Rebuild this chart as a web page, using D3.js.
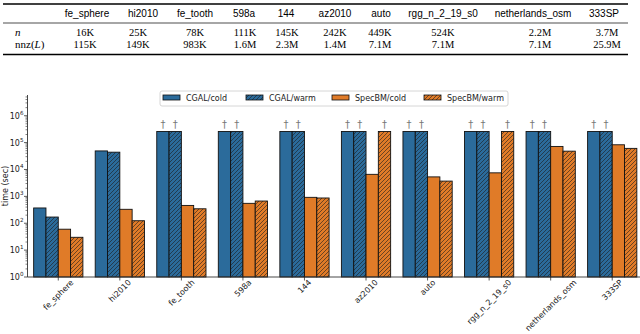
<!DOCTYPE html>
<html>
<head>
<meta charset="utf-8">
<script src="https://cdn.jsdelivr.net/npm/d3@7"></script>
<style>
  body { margin: 0; background: #fff; }
  svg { display: block; }
</style>
</head>
<body>
<div class="graph"></div>
<script>
// graphs + sizes (table on top)
var graphs = ["fe_sphere", "hi2010", "fe_tooth", "598a", "144", "az2010", "auto", "rgg_n_2_19_s0", "netherlands_osm", "333SP"];
var nLabels = ["16K", "25K", "78K", "111K", "145K", "242K", "449K", "524K", "2.2M", "3.7M"];
var nnzLabels = ["115K", "149K", "983K", "1.6M", "2.3M", "1.4M", "7.1M", "7.1M", "7.1M", "25.9M"];

// series, null = timed out (drawn at the time limit with a dagger)
var seriesNames = ["CGAL/cold", "CGAL/warm", "SpecBM/cold", "SpecBM/warm"];
var cgalCold = [370, 49000, null, null, null, null, null, null, null, null];
var cgalWarm = [170, 44000, null, null, null, null, null, null, null, null];
var specCold = [60, 330, 460, 550, 920, 6600, 5300, 7500, 72000, 83000];
var specWarm = [30, 124, 345, 670, 870, null, 3700, null, 48000, 61000];
var timeLimit = 259200;
var yTicks = [1, 10, 100, 1000, 10000, 100000, 1000000];

(function () {
  var W = 640, H = 334;
  var svg = d3.select(".graph").append("svg").attr("width", W).attr("height", H);

  var serif = "'Liberation Serif', 'DejaVu Serif', serif";
  var sans = "'Liberation Sans', Arial, sans-serif";
  var plotFont = "'DejaVu Sans', sans-serif";

  // ---------- table ----------
  var colX = [87, 143, 195, 244, 286, 335, 381, 443, 533, 604];
  var numX = [85, 138, 195, 245, 287, 335, 380, 443, 540, 607];
  var tbl = svg.append("g").attr("class", "table");
  [[4, 1.3], [23, 0.7], [54.5, 1.3]].forEach(function (r) {
    tbl.append("line").attr("x1", 3).attr("x2", 628).attr("y1", r[0]).attr("y2", r[0])
      .attr("stroke", "#000").attr("stroke-width", r[1]);
  });
  tbl.selectAll("text.head").data(graphs).enter().append("text")
    .attr("class", "head")
    .attr("x", function (d, i) { return colX[i]; }).attr("y", 16.5)
    .attr("text-anchor", "middle").style("font-family", sans).style("font-size", "10px")
    .text(function (d) { return d; });
  tbl.append("text").attr("x", 15).attr("y", 35.5).style("font-family", serif)
    .style("font-style", "italic").style("font-size", "11px").text("n");
  var nnz = tbl.append("text").attr("x", 15).attr("y", 47.5).style("font-family", serif).style("font-size", "11px");
  nnz.append("tspan").text("nnz(");
  nnz.append("tspan").style("font-style", "italic").text("L");
  nnz.append("tspan").text(")");
  [[nLabels, 35.5], [nnzLabels, 47.5]].forEach(function (row) {
    tbl.selectAll(null).data(row[0]).enter().append("text")
      .attr("x", function (d, i) { return numX[i]; }).attr("y", row[1])
      .attr("text-anchor", "middle").style("font-family", serif).style("font-size", "10.5px")
      .text(function (d) { return d; });
  });

  // ---------- bar chart ----------
  var left = 27.5, bottom = 277, plotTop = 95;
  var x = d3.scaleLinear().domain([-0.5, graphs.length - 0.5]).range([left, 643]);
  var y = d3.scaleLog().domain([1, 5.9e6]).range([bottom, plotTop]);

  var blue = "#2b6b9b", orange = "#e07b28";
  var defs = svg.append("defs");
  [["hatchBlue", blue], ["hatchOrange", orange]].forEach(function (p) {
    var pat = defs.append("pattern").attr("id", p[0]).attr("patternUnits", "userSpaceOnUse")
      .attr("width", 4).attr("height", 4);
    pat.append("rect").attr("width", 4).attr("height", 4).attr("fill", p[1]);
    pat.append("path").attr("d", "M-1,1 l2,-2 M0,4 l4,-4 M3,5 l2,-2")
      .attr("stroke", "#1c1c1c").attr("stroke-width", 0.6);
  });
  var fills = [blue, "url(#hatchBlue)", orange, "url(#hatchOrange)"];
  var allSeries = [cgalCold, cgalWarm, specCold, specWarm];

  var bars = [];
  allSeries.forEach(function (vals, j) {
    vals.forEach(function (v, i) {
      bars.push({ g: i, s: j, v: v === null ? timeLimit : v, out: v === null });
    });
  });

  var bw = 0.2;
  var chart = svg.append("g").attr("class", "bars");
  chart.selectAll("rect").data(bars).enter().append("rect")
    .attr("x", function (d) { return x(d.g + (d.s - 2) * bw); })
    .attr("width", function (d) { return x(bw) - x(0); })
    .attr("y", function (d) { return y(d.v); })
    .attr("height", function (d) { return bottom - y(d.v); })
    .attr("fill", function (d) { return fills[d.s]; })
    .attr("stroke", "#111").attr("stroke-width", 0.9);

  // dagger over timed-out runs
  chart.selectAll("text.dag").data(bars.filter(function (d) { return d.out; })).enter().append("text")
    .attr("class", "dag")
    .attr("x", function (d) { return x(d.g + (d.s - 1.5) * bw); })
    .attr("y", function (d) { return y(d.v) - 3; })
    .attr("text-anchor", "middle").attr("fill", "#777")
    .style("font-family", plotFont).style("font-size", "10px").text("\u2020");

  // y axis (log, with minor ticks)
  var ax = svg.append("g").attr("class", "axis--y");
  var minor = [];
  for (var e = 0; e < 7; e++) for (var k = 2; k < 10; k++) if (k * Math.pow(10, e) < 5.9e6) minor.push(k * Math.pow(10, e));
  ax.selectAll("line.minor").data(minor).enter().append("line")
    .attr("x1", left - 2).attr("x2", left).attr("y1", function (d) { return y(d); }).attr("y2", function (d) { return y(d); })
    .attr("stroke", "#333").attr("stroke-width", 0.6);
  ax.selectAll("line.major").data(yTicks).enter().append("line")
    .attr("x1", left - 3.5).attr("x2", left).attr("y1", function (d) { return y(d); }).attr("y2", function (d) { return y(d); })
    .attr("stroke", "#333").attr("stroke-width", 0.8);
  var tl = ax.selectAll("text").data(yTicks).enter().append("text")
    .attr("x", left - 4).attr("y", function (d) { return y(d) + 3; })
    .attr("text-anchor", "end").attr("fill", "#222")
    .style("font-family", plotFont).style("font-size", "8px");
  tl.append("tspan").text("10");
  tl.append("tspan").attr("dy", -4).style("font-size", "5.6px").text(function (d) { return Math.round(Math.log10(d)); });
  ax.append("line").attr("x1", left).attr("x2", left).attr("y1", plotTop).attr("y2", bottom).attr("stroke", "#333").attr("stroke-width", 0.9);
  svg.append("text").attr("transform", "translate(8," + ((plotTop + bottom) / 2) + ") rotate(-90)")
    .attr("text-anchor", "middle").attr("fill", "#222")
    .style("font-family", plotFont).style("font-size", "8px").text("time (sec)");

  // x axis
  var xa = svg.append("g").attr("class", "axis--x");
  xa.append("line").attr("x1", left).attr("x2", 643).attr("y1", bottom).attr("y2", bottom).attr("stroke", "#333").attr("stroke-width", 0.9);
  xa.selectAll("line.t").data(graphs).enter().append("line")
    .attr("x1", function (d, i) { return x(i); }).attr("x2", function (d, i) { return x(i); })
    .attr("y1", bottom).attr("y2", bottom + 3.5).attr("stroke", "#333").attr("stroke-width", 0.8);
  xa.selectAll("text").data(graphs).enter().append("text")
    .attr("text-anchor", "end").attr("fill", "#222")
    .style("font-family", plotFont).style("font-size", "8px")
    .text(function (d) { return d; })
    .each(function (d, i) {
      // rotated 45deg, bounding box centred on the tick
      var L = this.getComputedTextLength(), c = Math.SQRT1_2;
      var px = x(i) + (L * c) / 2 + 2, py = bottom + 6;
      d3.select(this).attr("transform", "translate(" + px + "," + py + ") rotate(-45)");
    });

  // legend
  var lg = svg.append("g").attr("class", "legend");
  lg.append("rect").attr("x", 160).attr("y", 91).attr("width", 348).attr("height", 15).attr("rx", 2)
    .attr("fill", "#fff").attr("stroke", "#ccc").attr("stroke-width", 0.8);
  var legX = [163, 246, 332, 424];
  seriesNames.forEach(function (name, j) {
    lg.append("rect").attr("x", legX[j]).attr("y", 95).attr("width", 17).attr("height", 5)
      .attr("fill", fills[j]).attr("stroke", "#111").attr("stroke-width", 0.8);
    lg.append("text").attr("x", legX[j] + 23).attr("y", 100.5).attr("fill", "#222")
      .style("font-family", plotFont).style("font-size", "8px").text(name);
  });
})();
</script>
</body>
</html>
